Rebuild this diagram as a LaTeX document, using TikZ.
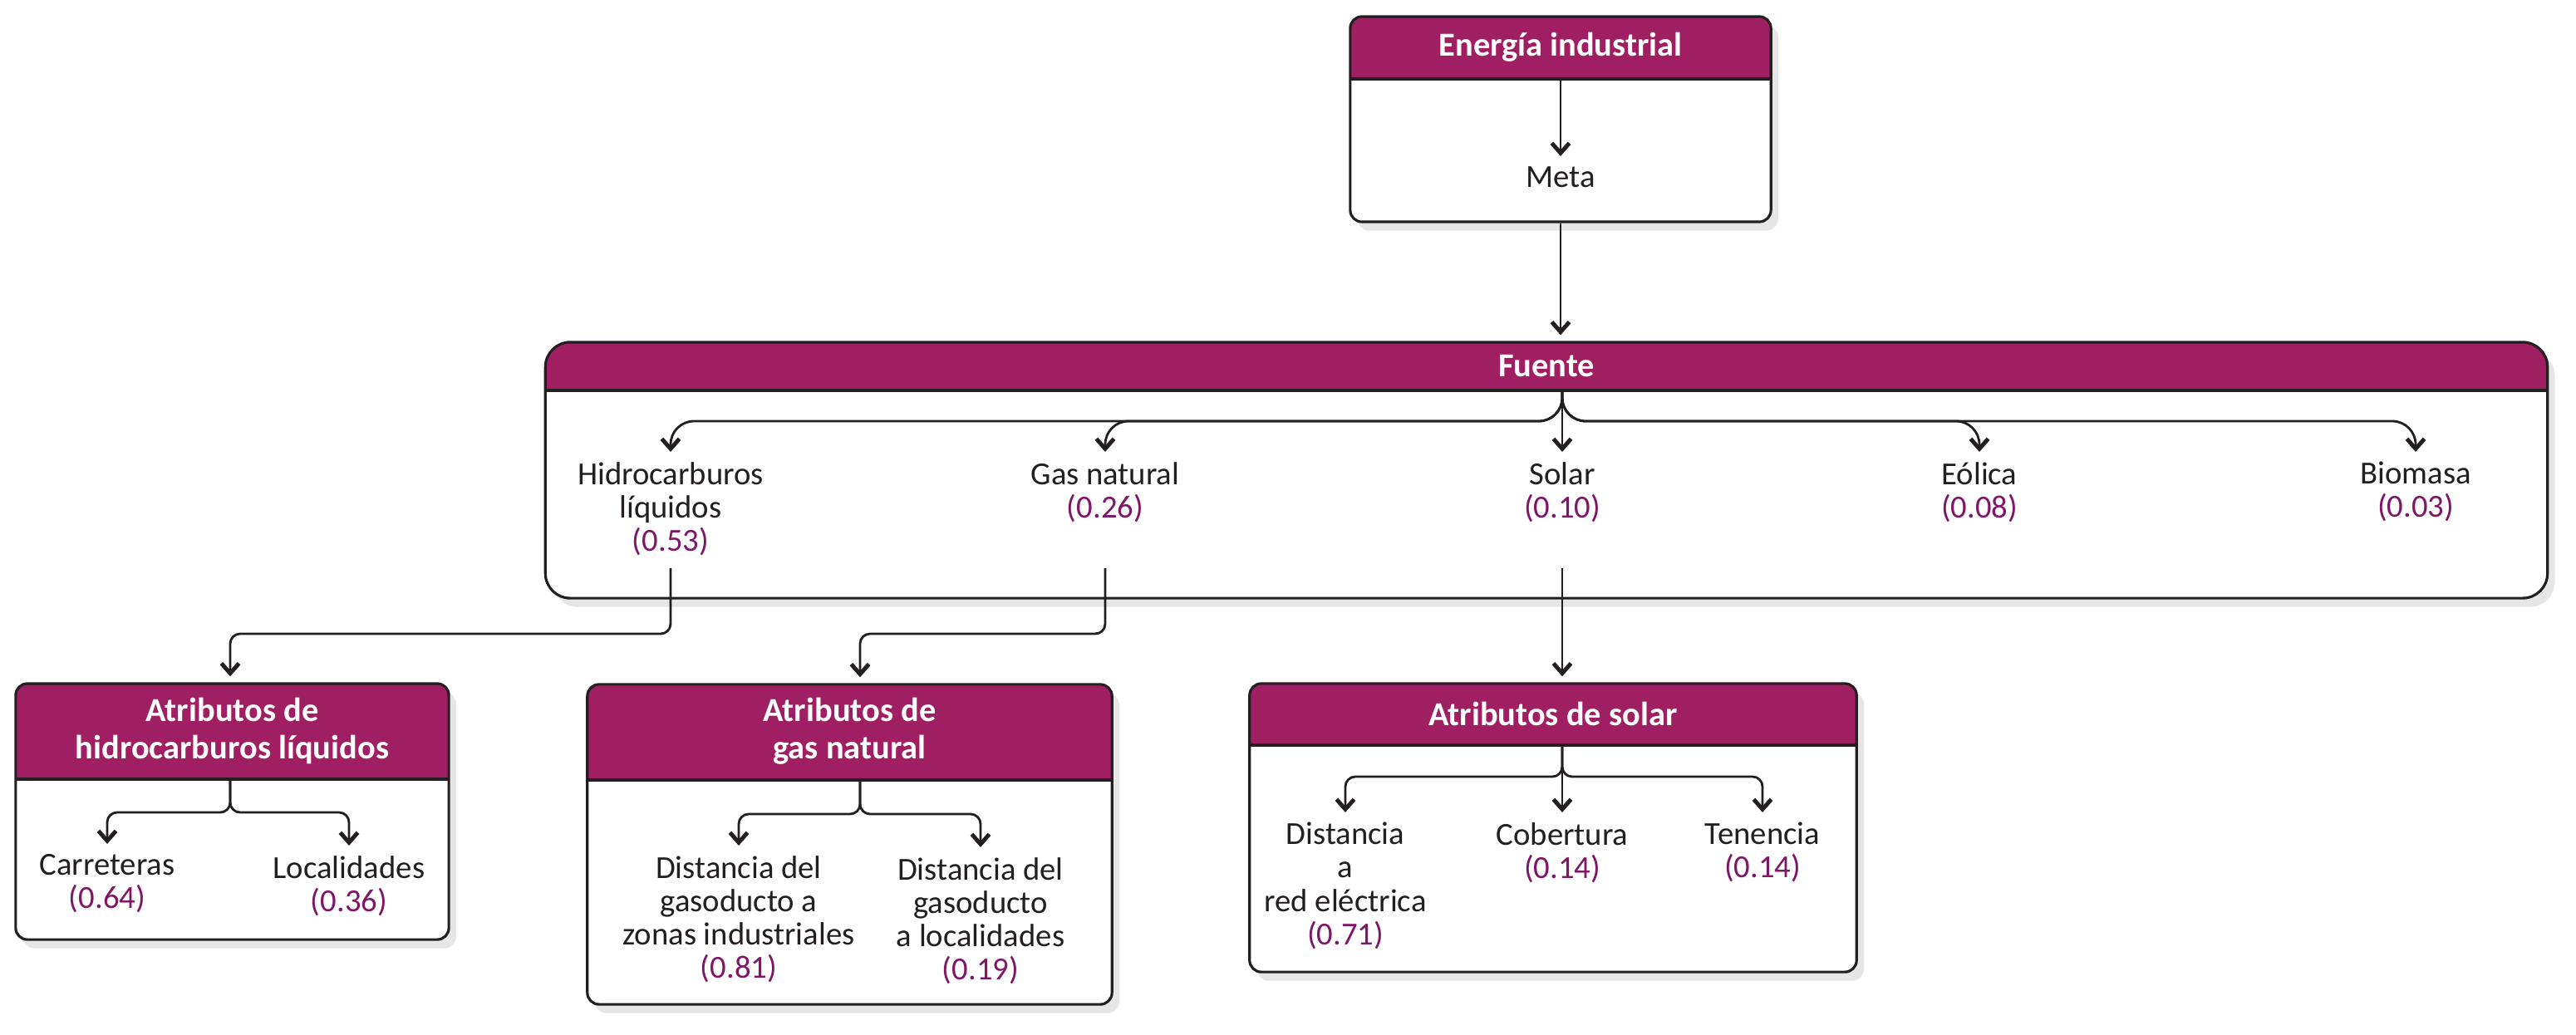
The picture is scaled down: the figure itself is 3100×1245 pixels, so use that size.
\documentclass[tikz,border=0pt]{standalone}
\usepackage{fontspec}
\setmainfont{Carlito}
\usetikzlibrary{arrows.meta,positioning,shadows}
\definecolor{fuchsia}{RGB}{160,30,98}
\definecolor{plum}{RGB}{128,22,104}
\definecolor{ink}{RGB}{35,31,32}
\newcommand{\peso}[1]{\textcolor{plum}{(#1)}}

\begin{document}
\begin{tikzpicture}[x=0.01cm,y=-0.01cm,
	panel/.style={draw=ink, line width=0.9pt, fill=white, rounded corners=4pt,
		drop shadow={shadow xshift=2.5pt, shadow yshift=-3pt, opacity=0.2},
		path picture={
			\fill[fuchsia, sharp corners] (path picture bounding box.north west) rectangle ([yshift=-#1]path picture bounding box.north east);
			\draw[ink, line width=0.9pt, sharp corners] ([yshift=-#1]path picture bounding box.north west) -- ([yshift=-#1]path picture bounding box.north east);}},
	head/.style={text=white, font=\bfseries\fontsize{11.5}{12.8}\selectfont, align=center},
	leaf/.style={anchor=north, outer ysep=1.5pt, align=center, text=ink, font=\fontsize{11}{11.4}\selectfont},
	link/.style={draw=ink, line width=0.8pt, -{Straight Barb[length=3.4pt,width=6pt,line width=1.4pt]}, shorten >=2pt, rounded corners=3.4pt}]
	\tikzstyle{every node}+=[inner sep=0pt]
	\useasboundingbox (0,0) rectangle (3100,1245);
	\node[panel=0.75cm, minimum width=5.06cm, minimum height=2.47cm] (energia) at (1878,143.5) {};
	\node[panel=0.58cm, rounded corners=8.5pt, minimum width=24.08cm, minimum height=3.08cm] (fuente) at (1861,566) {};
	\node[panel=1.15cm, minimum width=5.21cm, minimum height=3.08cm] (bhid) at (279.5,977) {};
	\node[panel=1.15cm, minimum width=6.31cm, minimum height=3.85cm] (bgas) at (1022.5,1016.5) {};
	\node[panel=0.74cm, minimum width=7.30cm, minimum height=3.47cm] (bsol) at (1869,996.5) {};
	\node[head, minimum height=0.75cm, below=0pt of energia.north] (energiat) {Energía industrial};
	\node[head, minimum height=0.58cm, below=0pt of fuente.north] (fuentet) {Fuente};
	\node[head, minimum height=1.15cm, below=0pt of bhid.north] (athid) {Atributos de\\hidrocarburos líquidos};
	\node[head, minimum height=1.15cm, below=0pt of bgas.north] (atgas) {Atributos de\\gas natural};
	\node[head, minimum height=0.74cm, below=0pt of bsol.north] (atsol) {Atributos de solar};
	\node[leaf] (meta) at (1878,195) {Meta};
	\node[leaf] (hid) at (807,551) {Hidrocarburos\\líquidos\\\peso{0.53}};
	\node[leaf] (gas) at (1330,551) {Gas natural\\\peso{0.26}};
	\node[leaf] (sol) at (1880,551) {Solar\\\peso{0.10}};
	\node[leaf] (eol) at (2382,551) {Eólica\\\peso{0.08}};
	\node[leaf] (bio) at (2907,551) {Biomasa\\\peso{0.03}};
	\node[leaf] (carr) at (129,1023) {Carreteras\\\peso{0.64}};
	\node[leaf] (loc) at (420,1025) {Localidades\\\peso{0.36}};
	\node[leaf] (dgz) at (889,1025) {Distancia del\\gasoducto a\\zonas industriales\\\peso{0.81}};
	\node[leaf] (dgl) at (1180,1027) {Distancia del\\gasoducto\\a localidades\\\peso{0.19}};
	\node[leaf] (dred) at (1619,985) {Distancia\\a\\red eléctrica\\\peso{0.71}};
	\node[leaf] (cob) at (1880,985) {Cobertura\\\peso{0.14}};
	\node[leaf] (ten) at (2121,985) {Tenencia\\\peso{0.14}};
	\coordinate (fsplit) at (1880,507);
	\coordinate (fout) at (0,684);
	\coordinate (fdrop) at (0,763);
	\coordinate (hsplit) at (277,978);
	\coordinate (gsplit) at (1035,980);
	\coordinate (ssplit) at (1880,935);
	\draw[link] (energiat.south) -- (meta.north);
	\draw[link] (energia.south) -- (energia.south |- fuente.north);
	\draw[link, rounded corners=8pt] (fuentet.south -| fsplit) -- (fsplit) -| (hid.north);
	\draw[link, rounded corners=8pt] (fuentet.south -| fsplit) -- (fsplit) -| (gas.north);
	\draw[link] (fuentet.south -| fsplit) -- (sol.north);
	\draw[link, rounded corners=8pt] (fuentet.south -| fsplit) -- (fsplit) -| (eol.north);
	\draw[link, rounded corners=8pt] (fuentet.south -| fsplit) -- (fsplit) -| (bio.north);
	\draw[link] (hid |- fout) -- (hid |- fdrop) -| (hsplit |- bhid.north);
	\draw[link] (gas |- fout) -- (gas |- fdrop) -| (gsplit |- bgas.north);
	\draw[link] (sol |- fout) -- (sol |- bsol.north);
	\draw[link] (athid.south -| hsplit) -- (hsplit) -| (carr.north);
	\draw[link] (athid.south -| hsplit) -- (hsplit) -| (loc.north);
	\draw[link] (atgas.south -| gsplit) -- (gsplit) -| (dgz.north);
	\draw[link] (atgas.south -| gsplit) -- (gsplit) -| (dgl.north);
	\draw[link] (atsol.south -| ssplit) -- (ssplit) -| (dred.north);
	\draw[link] (atsol.south -| ssplit) -- (cob.north);
	\draw[link] (atsol.south -| ssplit) -- (ssplit) -| (ten.north);
\end{tikzpicture}
\end{document}
